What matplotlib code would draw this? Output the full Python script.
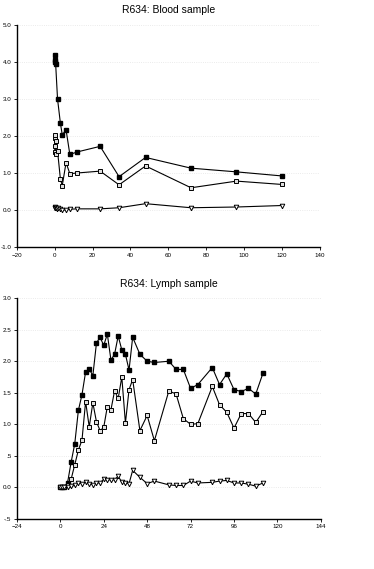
import numpy as np
import matplotlib
matplotlib.use("Agg")
import matplotlib.pyplot as plt

plt.rcParams['font.family'] = ['Liberation Sans', 'DejaVu Sans']

# Blood sample (hours)
blood_x_filled = [0, 0.08, 0.25, 0.5, 1.5, 3, 4, 6, 8, 12, 24, 34, 48, 72, 96, 120]
blood_y_filled = [4.2, 4.0, 4.05, 3.95, 3.0, 2.35, 2.03, 2.17, 1.5, 1.57, 1.72, 0.9, 1.42, 1.13, 1.03, 0.92]
blood_x_open = [0, 0.08, 0.17, 0.25, 0.5, 0.75, 1.5, 3, 4, 6, 8, 12, 24, 34, 48, 72, 96, 120]
blood_y_open = [1.57, 1.74, 1.95, 2.03, 1.87, 1.5, 1.6, 0.84, 0.66, 1.28, 0.98, 1.0, 1.05, 0.68, 1.19, 0.6, 0.78, 0.69]
blood_x_tri = [0, 0.08, 0.17, 0.25, 0.5, 1, 1.5, 3, 4, 6, 8, 12, 24, 34, 48, 72, 96, 120]
blood_y_tri = [0.05, 0.07, 0.04, 0.06, 0.05, 0.03, 0.05, 0.02, 0.0, 0.0, 0.02, 0.03, 0.03, 0.06, 0.17, 0.06, 0.08, 0.12]

# Lymph sample (hours)
lymph_x = [0, 1, 2, 4, 6, 8, 10, 12, 14, 16, 18, 20, 22, 24, 26, 28, 30, 32, 34, 36,
           38, 40, 44, 48, 52, 60, 64, 68, 72, 76, 84, 88, 92, 96, 100, 104, 108, 112]
lymph_filled = [0.0, 0.0, 0.01, 0.07, 0.4, 0.69, 1.22, 1.47, 1.83, 1.88, 1.77, 2.29, 2.38,
                2.25, 2.43, 2.02, 2.11, 2.40, 2.18, 2.11, 1.86, 2.38, 2.11, 2.0, 1.98, 2.0,
                1.87, 1.87, 1.57, 1.63, 1.90, 1.63, 1.80, 1.55, 1.52, 1.57, 1.48, 1.81]
lymph_open = [0.0, 0.0, 0.01, 0.03, 0.13, 0.36, 0.59, 0.75, 1.36, 0.96, 1.34, 1.04, 0.90,
              0.95, 1.28, 1.23, 1.53, 1.41, 1.75, 1.02, 1.55, 1.71, 0.90, 1.14, 0.74, 1.53,
              1.48, 1.09, 1.0, 1.01, 1.60, 1.31, 1.19, 0.94, 1.17, 1.17, 1.03, 1.20]
lymph_tri = [0.0, 0.0, 0.0, 0.0, 0.02, 0.03, 0.07, 0.06, 0.08, 0.06, 0.04, 0.07, 0.07, 0.13,
             0.12, 0.12, 0.12, 0.18, 0.08, 0.07, 0.06, 0.27, 0.16, 0.06, 0.10, 0.04, 0.03,
             0.03, 0.10, 0.07, 0.08, 0.10, 0.11, 0.07, 0.07, 0.05, 0.02, 0.07]

blood_xticks = [-20, 0, 20, 40, 60, 80, 100, 120, 140]
blood_yticks = [-1.0, 0.0, 1.0, 2.0, 3.0, 4.0, 5.0]
blood_ylabels = ["-1.0", "0.0", "1.0", "2.0", "3.0", "4.0", "5.0"]
lymph_xticks = [-24, 0, 24, 48, 72, 96, 120, 144]
lymph_yticks = [-0.5, 0.0, 0.5, 1.0, 1.5, 2.0, 2.5, 3.0]
lymph_ylabels = ["-.5", "0.0", ".5", "1.0", "1.5", "2.0", "2.5", "3.0"]

fig = plt.figure(figsize=(3.74, 5.69), dpi=100)
ax1 = fig.add_axes([0.045, 0.566, 0.81, 0.39])
ax2 = fig.add_axes([0.045, 0.088, 0.813, 0.388])


def draw(ax, xf, yf, xo, yo, xt, yt):
    ax.plot(xf, yf, color='black', lw=0.8, marker='s', ms=3.3,
            mfc='black', mec='black', zorder=3)
    ax.plot(xo, yo, color='black', lw=0.8, marker='s', ms=2.7,
            mfc='#dddddd', mec='black', mew=0.7, zorder=3)
    ax.plot(xt, yt, color='black', lw=0.8, marker='v', ms=3.3,
            mfc='white', mec='black', mew=0.7, zorder=3)
    for s in ['top', 'right']:
        ax.spines[s].set_visible(False)
    for s in ['left', 'bottom']:
        ax.spines[s].set_linewidth(1.0)
    ax.tick_params(labelsize=4.5, length=2, width=0.6, pad=2)
    ax.yaxis.grid(True, color='#e4e4e4', ls=':', lw=0.6)
    ax.set_axisbelow(True)


draw(ax1, blood_x_filled, blood_y_filled, blood_x_open, blood_y_open,
     blood_x_tri, blood_y_tri)
ax1.set_xlim(-20, 140)
ax1.set_ylim(-1.0, 5.0)
ax1.set_xticks(blood_xticks)
ax1.set_yticks(blood_yticks)
ax1.set_yticklabels(blood_ylabels)
ax1.set_title("R634: Blood sample", fontsize=7.5, pad=9)

draw(ax2, lymph_x, lymph_filled, lymph_x, lymph_open, lymph_x, lymph_tri)
ax2.set_xlim(-24, 144)
ax2.set_ylim(-0.5, 3.0)
ax2.set_xticks(lymph_xticks)
ax2.set_yticks(lymph_yticks)
ax2.set_yticklabels(lymph_ylabels)
ax2.set_title("R634: Lymph sample", fontsize=7.5, pad=8)

fig.savefig("out.png", dpi=100)
